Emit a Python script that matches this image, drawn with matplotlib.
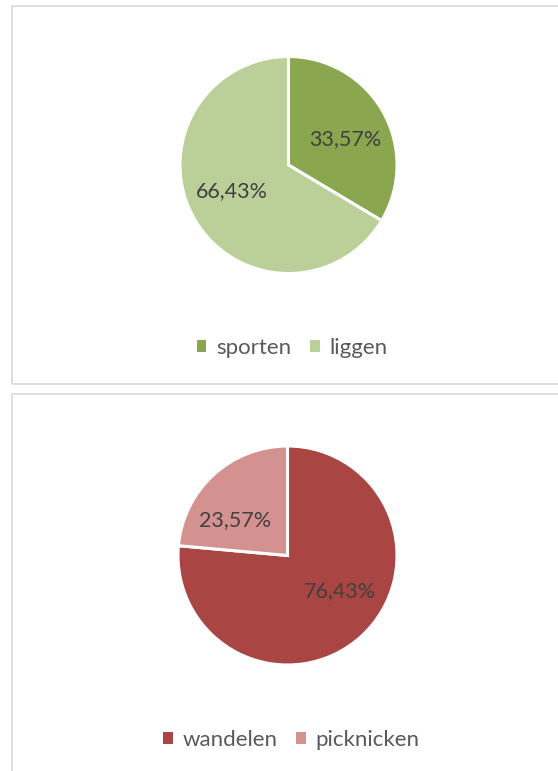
import matplotlib
matplotlib.use("Agg")
import numpy as np
import matplotlib.pyplot as plt
from matplotlib.patches import Rectangle, Patch

plt.rcParams['font.family'] = ['Lato', 'DejaVu Sans']

# data
top_labels = ["sporten", "liggen"]
top_values = [33.57, 66.43]
top_colors = ["#8AA64E", "#BBCF99"]

bot_labels = ["wandelen", "picknicken"]
bot_values = [76.43, 23.57]
bot_colors = ["#A94542", "#D39190"]

W, H = 558, 771
fig = plt.figure(figsize=(W / 100, H / 100), dpi=100)
fig.patch.set_facecolor("white")

def px_rect(x0, y0, x1, y1):
    return [x0 / W, 1 - y1 / H, (x1 - x0) / W, (y1 - y0) / H]

# panel borders
for (y0, y1) in [(6, 384), (394, 775)]:
    fig.patches.append(Rectangle((11.5 / W, 1 - y1 / H), (W + 5) / W, (y1 - y0) / H,
                                 transform=fig.transFigure, fill=False,
                                 edgecolor="#D9D9D9", linewidth=1.2))

def fmt(p):
    return f"{p:.2f}%".replace(".", ",")

def draw_pie(cx, cy, r, values, colors, labels, legend_y, ang_shift, dist):
    ax = fig.add_axes(px_rect(cx - r, cy - r, cx + r, cy + r))
    wedges, texts, autotexts = ax.pie(values, colors=colors, startangle=90, counterclock=False,
                                      autopct=fmt, pctdistance=dist,
                                      wedgeprops=dict(edgecolor="white", linewidth=2.2),
                                      textprops=dict(color="#404040", fontsize=15.5))
    for w, t in zip(wedges, autotexts):
        mid = np.deg2rad((w.theta1 + w.theta2) / 2 + ang_shift)
        t.set_position((dist * np.cos(mid), dist * np.sin(mid)))
    ax.set_xlim(-1, 1)
    ax.set_ylim(-1, 1)
    ax.set_aspect("equal")
    ax.axis("off")
    handles = [Patch(facecolor=c, edgecolor="none", label=l) for c, l in zip(colors, labels)]
    fig.legend(handles=handles, loc="center", bbox_to_anchor=((cx + 4) / W, 1 - legend_y / H),
               ncol=2, frameon=False, fontsize=16, labelcolor="#595959",
               handlelength=0.42, handleheight=0.42, handletextpad=0.45, columnspacing=0.85)

draw_pie(288.5, 165, 108.5, top_values, top_colors, top_labels, 348, -5, 0.57)
draw_pie(287.5, 555.5, 109.5, bot_values, bot_colors, bot_labels, 740, 14, 0.58)

fig.savefig("out.png", dpi=100)
